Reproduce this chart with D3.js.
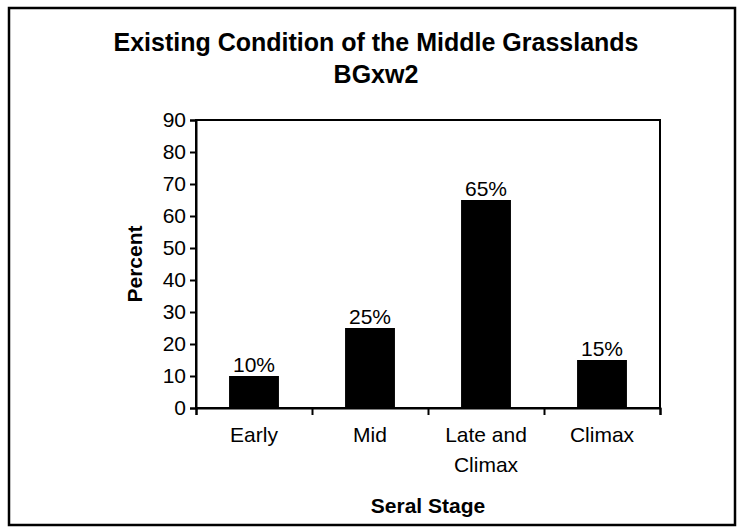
<!DOCTYPE html>
<html>
<head>
<meta charset="utf-8">
<script src="https://cdn.jsdelivr.net/npm/d3@7"></script>
<style>
  html, body { margin: 0; padding: 0; background: #fff; }
  #chart { width: 743px; height: 531px; }
</style>
</head>
<body>
<div id="chart"></div>
<script>
// ── DATA ────────────────────────────────────────────────────────────────
const categories = ["Early", "Mid", "Late and|Climax", "Climax"];
const values = [10, 25, 65, 15];
const yTicks = [0, 10, 20, 30, 40, 50, 60, 70, 80, 90];
const titleLines = ["Existing Condition of the Middle Grasslands", "BGxw2"];

(function () {
  const totalW = 743, totalH = 531;
  const margin = { top: 120, right: 83, bottom: 123, left: 196 };
  const W = totalW - margin.left - margin.right;
  const H = totalH - margin.top - margin.bottom;
  const font = "'Liberation Sans', Arial, sans-serif";

  const svg = d3.select("#chart").append("svg")
    .attr("width", totalW)
    .attr("height", totalH)
    .style("display", "block");

  // outer chart frame
  svg.append("rect")
    .attr("x", 9).attr("y", 8)
    .attr("width", 726).attr("height", 517)
    .attr("fill", "#fff")
    .attr("stroke", "#000")
    .attr("stroke-width", 2.5);

  // ── TITLE ────────────────────────────────────────────────────────────
  svg.append("text")
    .attr("text-anchor", "middle")
    .attr("font-family", font)
    .attr("font-size", "25px")
    .attr("font-weight", "bold")
    .selectAll("tspan")
    .data(titleLines)
    .join("tspan")
    .attr("x", 376)
    .attr("y", (d, i) => 51 + i * 32)
    .text(d => d);

  const g = svg.append("g")
    .attr("transform", `translate(${margin.left},${margin.top})`);

  // ── SCALES ───────────────────────────────────────────────────────────
  const x = d3.scaleBand()
    .domain(categories)
    .range([0, W])
    .paddingInner(0.57)
    .paddingOuter(0.285);

  const y = d3.scaleLinear()
    .domain([0, 90])
    .range([H, 0]);

  // plot frame (top + right)
  g.append("rect")
    .attr("width", W).attr("height", H)
    .attr("fill", "none")
    .attr("stroke", "#000")
    .attr("stroke-width", 2);

  // ── BARS ─────────────────────────────────────────────────────────────
  g.selectAll("rect.bar")
    .data(categories)
    .join("rect")
    .attr("class", "bar")
    .attr("x", d => x(d))
    .attr("y", (d, i) => y(values[i]))
    .attr("width", x.bandwidth())
    .attr("height", (d, i) => H - y(values[i]))
    .attr("fill", "#000");

  // value labels
  g.selectAll("text.val")
    .data(categories)
    .join("text")
    .attr("class", "val")
    .attr("x", d => x(d) + x.bandwidth() / 2)
    .attr("y", (d, i) => y(values[i]) - 4)
    .attr("text-anchor", "middle")
    .attr("font-family", font)
    .attr("font-size", "21px")
    .text((d, i) => values[i] + "%");

  // ── Y AXIS ───────────────────────────────────────────────────────────
  g.append("g")
    .call(d3.axisLeft(y).tickValues(yTicks).tickSize(6).tickPadding(4))
    .call(ax => ax.select(".domain").attr("stroke-width", 2))
    .call(ax => ax.selectAll(".tick line").attr("stroke-width", 2))
    .call(ax => ax.selectAll(".tick text")
      .attr("font-family", font)
      .attr("font-size", "21px")
      .attr("fill", "#000"));

  // ── X AXIS ───────────────────────────────────────────────────────────
  // ticks sit on the category boundaries
  const step = x.step();
  const bounds = d3.range(categories.length + 1).map(i => i * step);
  const xb = d3.scaleLinear().domain([0, W]).range([0, W]);

  g.append("g")
    .attr("transform", `translate(0,${H})`)
    .call(d3.axisBottom(xb).tickValues(bounds).tickSize(7).tickFormat(""))
    .call(ax => ax.select(".domain").attr("stroke-width", 2))
    .call(ax => ax.selectAll(".tick line").attr("stroke-width", 2));

  const xl = g.append("g")
    .attr("transform", `translate(0,${H})`)
    .call(d3.axisBottom(x).tickSize(0).tickPadding(0))
    .call(ax => ax.select(".domain").remove());

  xl.selectAll(".tick text")
    .attr("font-family", font)
    .attr("font-size", "21px")
    .attr("fill", "#000")
    .attr("y", null)
    .attr("dy", null)
    .each(function (d) {
      const t = d3.select(this);
      const parts = d.split("|");
      t.text(null);
      parts.forEach((p, i) => {
        t.append("tspan")
          .attr("x", 0)
          .attr("y", 34 + i * 30)
          .text(p);
      });
    });

  // ── AXIS TITLES ──────────────────────────────────────────────────────
  g.append("text")
    .attr("x", W / 2)
    .attr("y", H + 105)
    .attr("text-anchor", "middle")
    .attr("font-family", font)
    .attr("font-size", "21px")
    .attr("font-weight", "bold")
    .text("Seral Stage");

  g.append("text")
    .attr("transform", "rotate(-90)")
    .attr("x", -H / 2)
    .attr("y", -54)
    .attr("text-anchor", "middle")
    .attr("font-family", font)
    .attr("font-size", "21px")
    .attr("font-weight", "bold")
    .text("Percent");
})();
</script>
</body>
</html>
